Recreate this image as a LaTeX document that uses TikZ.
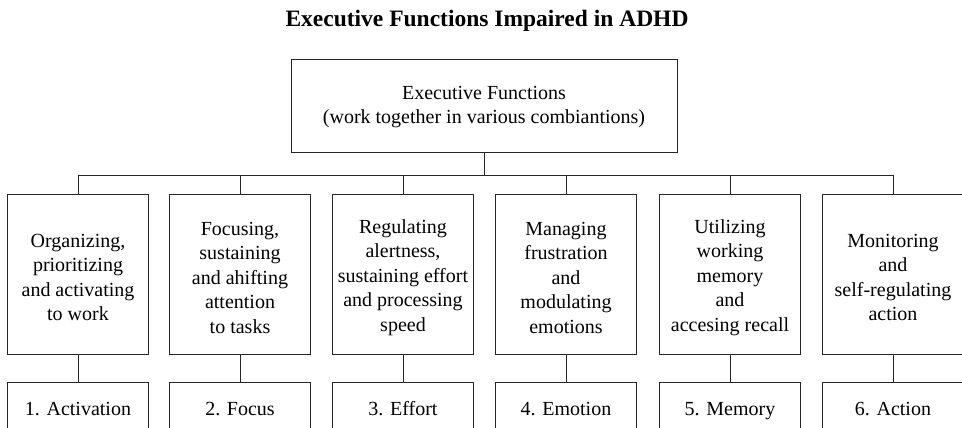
\documentclass[tikz,border=0pt]{standalone}
\usepackage{fontspec}
\setmainfont{Liberation Serif}
\begin{document}
\begin{tikzpicture}[x=1pt,y=1pt,
  ln/.style={draw=black!85,line width=0.9pt},
  txt/.style={inner sep=0pt,align=center,font=\fontsize{20}{24.5}\selectfont},
  box/.style={ln,rectangle,txt,minimum width=141pt},
  midbox/.style={box,minimum height=160pt},
  lowbox/.style={box,minimum height=57pt,text height=14pt,text depth=5pt}]
\useasboundingbox (0,0) rectangle (962,-428);
\node[font=\bfseries\fontsize{23.5}{27}\selectfont,anchor=base] (title) at (487,-27) {Executive Functions Impaired in ADHD};
\node[box,minimum width=386pt,minimum height=93pt] (top) at (484,-105.5) {};
\node[txt,font=\fontsize{20}{24}\selectfont] (toptxt) at (484,-107) {Executive Functions\\(work together in various combiantions)};
\coordinate (bus) at (484,-175);
\foreach \i/\x/\t/\b in {
  1/78/{Organizing,\\prioritizing\\and activating\\to work}/{1. Activation},
  2/240/{Focusing,\\sustaining\\and ahifting\\attention\\to tasks}/{2. Focus},
  3/403/{Regulating\\alertness,\\sustaining effort\\and processing\\speed}/{3. Effort},
  4/566/{Managing\\frustration\\and\\modulating\\emotions}/{4. Emotion},
  5/730/{Utilizing\\working\\memory\\and\\accesing recall}/{5. Memory},
  6/893/{Monitoring\\and\\self-regulating\\action}/{6. Action}}{
  \node[midbox] (m\i) at (\x,-274) {};
  \node[txt] (t\i) at ([yshift=-3.5pt]m\i.center) {\t};
  \node[lowbox] (b\i) at (\x,-410.5) {\b};
  \draw[ln] (m\i.north) -- (m\i.north |- bus);
  \draw[ln] (m\i.south) -- (b\i.north);
}
\draw[ln] (top.south) -- (bus);
\draw[ln] (m1.north |- bus) -- (m6.north |- bus);
\end{tikzpicture}
\end{document}
